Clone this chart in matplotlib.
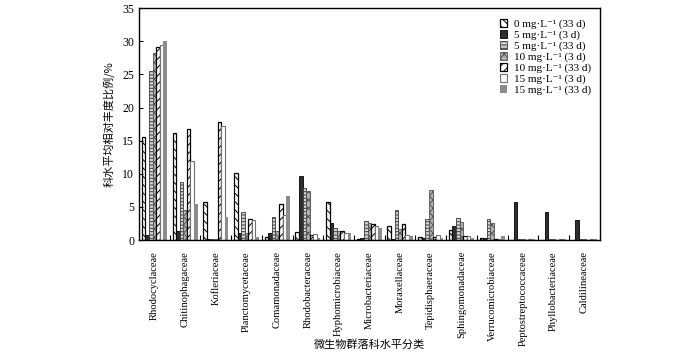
import matplotlib
matplotlib.use("Agg")
import matplotlib.pyplot as plt
import numpy as np
from matplotlib.ticker import MultipleLocator, FixedLocator

plt.rcParams['font.family'] = ['Liberation Serif', 'DejaVu Serif', 'Noto Sans CJK SC']
plt.rcParams['hatch.linewidth'] = 0.7

categories = ['Rhodocyclaceae', 'Chitinophagaceae', 'Kofleriaceae', 'Planctomycetaceae',
              'Comamonadaceae', 'Rhodobacteraceae', 'Hyphomicrobiaceae', 'Microbacteriaceae',
              'Moraxellaceae', 'Tepidisphaeraceae', 'Sphingomonadaceae', 'Verrucomicrobiaceae',
              'Peptostreptococcaceae', 'Phyllobacteriaceae', 'Caldilineaceae']

c0_33 = [15.5, 16.1, 5.8, 10.1, 0.5, 1.15, 5.7, 0.15, 2.1, 0.45, 1.5, 0.3, 0.0, 0.0, 0.0]
c5_3 = [0.75, 1.4, 0.1, 1.0, 1.0, 9.65, 2.5, 0.25, 0.1, 0.35, 2.15, 0.3, 5.8, 4.3, 3.0]
c5_33 = [25.5, 8.8, 0.1, 4.25, 3.4, 7.8, 1.85, 2.85, 4.6, 3.1, 3.35, 3.1, 0.1, 0.1, 0.1]
c10_3 = [28.2, 4.5, 0.1, 1.1, 1.35, 7.4, 1.35, 2.6, 1.6, 7.55, 2.65, 2.5, 0.1, 0.1, 0.1]
c10_33 = [29.1, 16.8, 17.8, 3.15, 5.5, 0.7, 1.3, 2.4, 2.4, 0.45, 0.55, 0.15, 0.0, 0.0, 0.0]
c15_3 = [29.5, 12.0, 17.2, 2.95, 3.8, 0.85, 1.1, 2.15, 0.7, 0.7, 0.55, 0.1, 0.15, 0.15, 0.1]
c15_33 = [30.0, 5.5, 3.5, 0.45, 6.6, 0.3, 1.05, 1.75, 0.6, 0.25, 0.3, 0.6, 0.15, 0.1, 0.1]

labels = ['0 mg·L⁻¹ (33 d)', '5 mg·L⁻¹ (3 d)', '5 mg·L⁻¹ (33 d)',
          '10 mg·L⁻¹ (3 d)', '10 mg·L⁻¹ (33 d)', '15 mg·L⁻¹ (3 d)',
          '15 mg·L⁻¹ (33 d)']
series = [c0_33, c5_3, c5_33, c10_3, c10_33, c15_3, c15_33]

styles = [
    dict(facecolor='white', edgecolor='black', hatch='\\\\\\\\', linewidth=0.9),
    dict(facecolor='#2e2e2e', edgecolor='black', linewidth=0.6),
    dict(facecolor='#d4d4d4', edgecolor='#3a3a3a', hatch='-----', linewidth=0.6),
    dict(facecolor='#b0b0b0', edgecolor='#505050', hatch='xxxx', linewidth=0.6),
    dict(facecolor='white', edgecolor='black', hatch='////', linewidth=0.9),
    dict(facecolor='white', edgecolor='#707070', linewidth=0.8),
    dict(facecolor='#8c8c8c', edgecolor='#8c8c8c', linewidth=0.0),
]

fig = plt.figure(figsize=(7.0, 3.54), dpi=100)
ax = fig.add_axes([0.1986, 0.322, 0.658, 0.655])

x = np.arange(len(categories))
w = 0.117
for j, (vals, lab, st) in enumerate(zip(series, labels, styles)):
    ax.bar(x + (j - 3) * w, vals, width=w, label=lab, **st)

ax.set_xlim(-0.5, len(categories) - 0.5)
ax.set_ylim(0, 35)
ax.yaxis.set_major_locator(MultipleLocator(5))
ax.set_xticks(x)
ax.set_xticklabels(categories, rotation=90, fontsize=7.6)
ax.xaxis.set_minor_locator(FixedLocator(np.arange(0.5, len(categories) - 0.5, 1)))
ax.tick_params(axis='x', which='major', length=0, pad=8)
ax.tick_params(axis='x', which='minor', direction='in', length=3.5, width=0.8)
ax.tick_params(axis='y', direction='in', length=3, width=0.8, labelsize=8.5)
for s in ax.spines.values():
    s.set_linewidth(1.0)

ax.set_ylabel('科水平均相对丰度比例/%', fontsize=8, family=['Noto Sans CJK SC', 'Liberation Serif'],
              va='center')
ax.yaxis.set_label_coords(-0.065, 0.5)
ax.set_xlabel('微生物群落科水平分类', fontsize=8, family=['Noto Sans CJK SC', 'Liberation Serif'],
              va='center')
ax.xaxis.set_label_coords(0.5, -0.45)

leg = ax.legend(loc='upper right', frameon=False, fontsize=8.0, handlelength=0.65, handleheight=0.65,
                handletextpad=0.6, labelspacing=0.1, borderaxespad=0.3, bbox_to_anchor=(0.998, 0.985))

fig.savefig('out.png', dpi=100)
